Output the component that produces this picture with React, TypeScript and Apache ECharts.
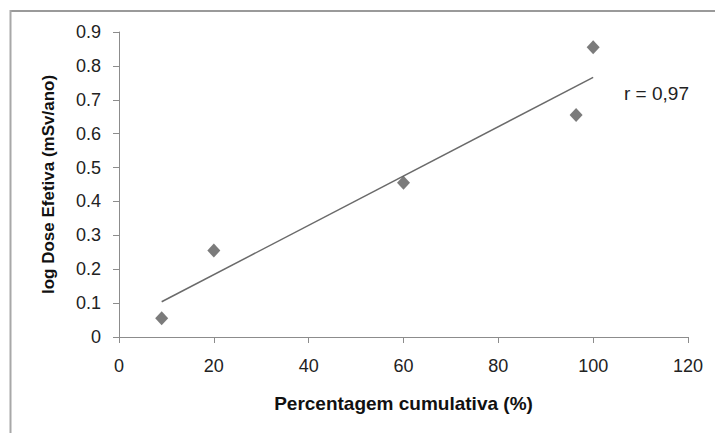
import React, { useEffect, useRef } from "react";
import * as echarts from "echarts";

const xValues = [9, 20, 60, 96.4, 100];
const yValues = [0.055, 0.255, 0.455, 0.655, 0.855];
const trendX = [9, 100];
const trendY = [0.104, 0.766];
const xTicks = { min: 0, max: 120, interval: 20 };
const yTicks = { min: 0, max: 0.9, interval: 0.1 };
const xTitle = "Percentagem cumulativa (%)";
const yTitle = "log Dose Efetiva (mSv/ano)";
const rLabel = "r = 0,97";

export default function App() {
  const ref = useRef<HTMLDivElement>(null);
  useEffect(() => {
    if (!ref.current) return;
    const chart = echarts.init(ref.current, null, { renderer: "svg" });
    const font = "Arial, 'Liberation Sans', sans-serif";
    chart.setOption({
      animation: false,
      backgroundColor: "#ffffff",
      textStyle: { fontFamily: font },
      grid: { left: 119, right: 27, top: 32, bottom: 96 },
      xAxis: {
        type: "value",
        min: xTicks.min,
        max: xTicks.max,
        interval: xTicks.interval,
        name: xTitle,
        nameLocation: "middle",
        nameGap: 57,
        nameTextStyle: { fontSize: 19, fontWeight: "bold", color: "#111", fontFamily: font },
        axisLine: { show: true, lineStyle: { color: "#8c8c8c", width: 1 } },
        axisTick: { show: true, length: 6, lineStyle: { color: "#8c8c8c" } },
        axisLabel: { fontSize: 18, color: "#222", margin: 20, fontFamily: font },
        splitLine: { show: false },
      },
      yAxis: {
        type: "value",
        min: yTicks.min,
        max: yTicks.max,
        interval: yTicks.interval,
        name: yTitle,
        nameLocation: "middle",
        nameGap: 62,
        nameTextStyle: { fontSize: 17, fontWeight: "bold", color: "#111", fontFamily: font },
        axisLine: { show: true, lineStyle: { color: "#8c8c8c", width: 1 } },
        axisTick: { show: true, length: 6, lineStyle: { color: "#8c8c8c" } },
        axisLabel: { fontSize: 18, color: "#222", margin: 18, fontFamily: font },
        splitLine: { show: false },
      },
      series: [
        {
          type: "line",
          data: trendX.map((x, i) => [x, trendY[i]]),
          symbol: "none",
          lineStyle: { color: "#6a6a6a", width: 1.5 },
          z: 1,
        },
        {
          type: "scatter",
          data: xValues.map((x, i) => [x, yValues[i]]),
          symbol: "diamond",
          symbolSize: [13, 14],
          itemStyle: { color: "#5a5a5a" },
          z: 2,
        },
      ],
      graphic: [
        {
          type: "line",
          shape: { x1: 10, y1: 11, x2: 715, y2: 11 },
          style: { stroke: "#9a9a9a", lineWidth: 2 },
        },
        {
          type: "line",
          shape: { x1: 10.5, y1: 10, x2: 10.5, y2: 433 },
          style: { stroke: "#a8a8a8", lineWidth: 2 },
        },
        {
          type: "text",
          left: 624,
          top: 84,
          style: { text: rLabel, fontSize: 19, fill: "#222", fontFamily: font },
        },
      ],
    });
    return () => chart.dispose();
  }, []);
  return (
    <div
      ref={ref}
      style={{ position: "fixed", left: 0, top: 0, width: 715, height: 433 }}
    />
  );
}
